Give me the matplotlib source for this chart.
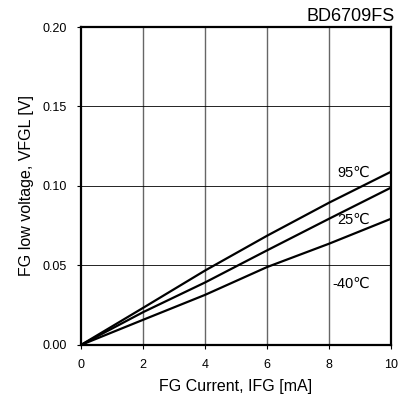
import matplotlib
matplotlib.use("Agg")
import matplotlib.pyplot as plt

plt.rcParams['font.family'] = ['Liberation Sans', 'DejaVu Sans']

# FG current [mA] vs FG low voltage [V]
current = [0, 2, 4, 6, 8, 10]
v_95 = [0, 0.0233, 0.0468, 0.0687, 0.0895, 0.109]
v_25 = [0, 0.0206, 0.0393, 0.0595, 0.0794, 0.099]
v_m40 = [0, 0.0158, 0.0315, 0.049, 0.0637, 0.0794]

curve_labels = ["95℃", "25℃", "-40℃"]
label_x = [8.27, 8.27, 8.1]
label_y = [0.108, 0.0786, 0.0384]

x_ticks = [0, 2, 4, 6, 8, 10]
y_ticks = [0.00, 0.05, 0.10, 0.15, 0.20]

fig = plt.figure(figsize=(4.13, 4.03), dpi=100)
ax = fig.add_axes([0.196, 0.144, 0.751, 0.789])

for xv in x_ticks[1:-1]:
    ax.axvline(xv, color="#666666", lw=1.0, zorder=1)
for yv in y_ticks[1:-1]:
    ax.axhline(yv, color="black", lw=0.6, zorder=1)

for ys in (v_95, v_25, v_m40):
    ax.plot(current, ys, color="black", lw=1.6, zorder=3)

for txt, tx, ty in zip(curve_labels, label_x, label_y):
    ax.text(tx, ty, txt, fontsize=10.5, va="center", ha="left", zorder=4)

ax.set_xlim(0, 10)
ax.set_ylim(0, 0.20)
ax.set_xticks(x_ticks)
ax.set_yticks(y_ticks)
ax.set_yticklabels([f"{v:.2f}" for v in y_ticks])
ax.tick_params(direction="out", length=3, width=0.8, labelsize=9, pad=7)

for sp in ax.spines.values():
    sp.set_linewidth(1.6)

ax.set_xlabel("FG Current, IFG [mA]", fontsize=11.5, labelpad=6)
ax.set_ylabel("FG low voltage, VFGL [V]", fontsize=11.5, labelpad=6)

fig.text(0.957, 0.937, "BD6709FS", fontsize=13, ha="right", va="bottom")

fig.savefig("out.png", dpi=100)
